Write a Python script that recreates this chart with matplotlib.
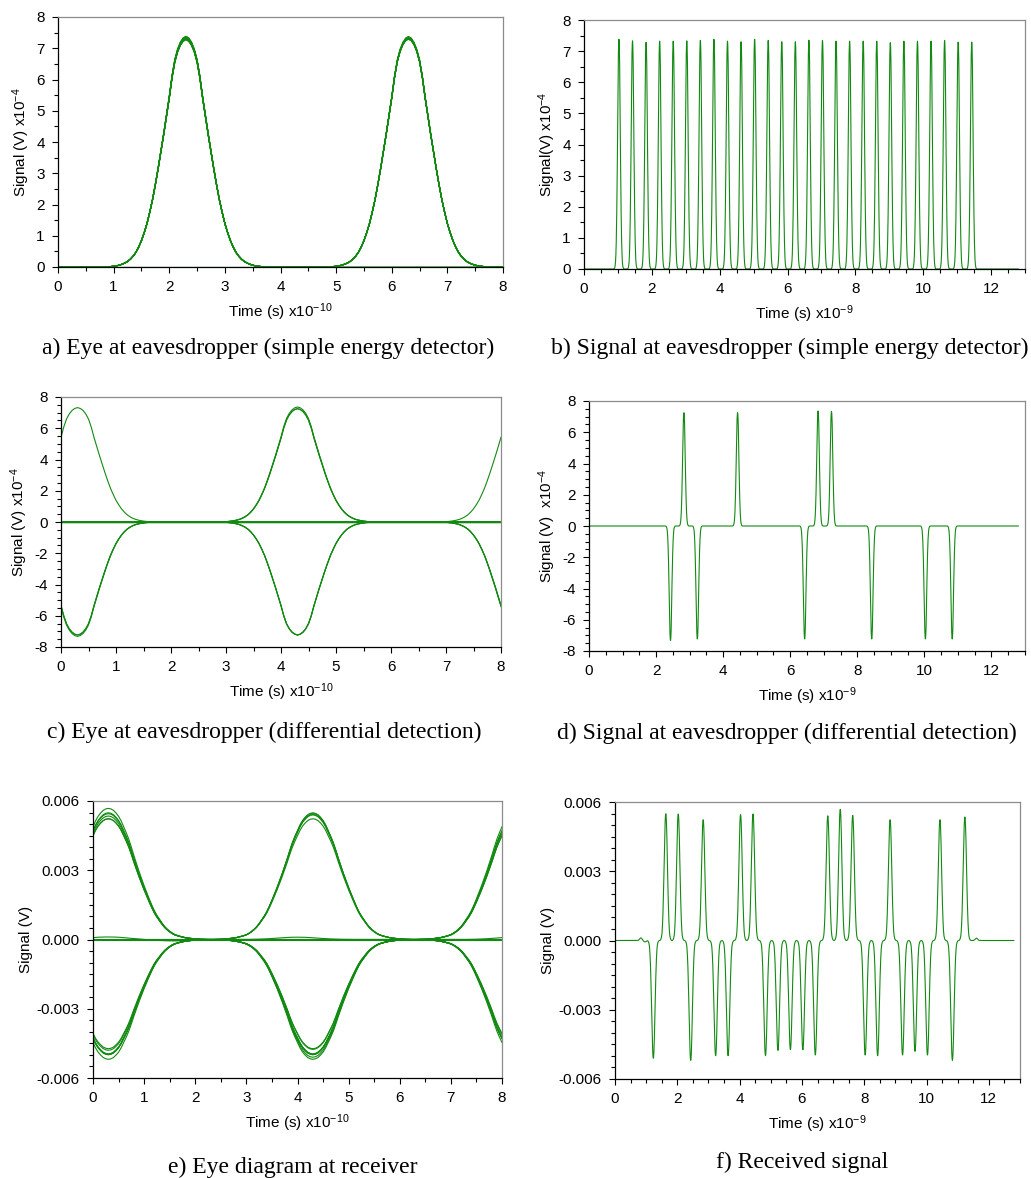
# eye diagrams and signals, eavesdropper vs receiver
import matplotlib
matplotlib.use("Agg")
import matplotlib.pyplot as plt
from matplotlib.ticker import MultipleLocator, FormatStrFormatter
import numpy as np

plt.rcParams['font.family'] = ['Liberation Sans', 'DejaVu Sans']
plt.rcParams['mathtext.fontset'] = 'custom'
plt.rcParams['mathtext.rm'] = 'Liberation Sans'
plt.rcParams['mathtext.it'] = 'Liberation Sans:italic'
plt.rcParams['axes.unicode_minus'] = False

# time grid of the scope traces (ns), 5 ps per sample
dt = 0.005
nSamples = 2561
t = np.arange(nSamples) * dt

# half pulse shapes read from the eyes, one value every 5 ps from the peak (normalized)
ED_PROFILE = [1.0, 0.993, 0.975, 0.945, 0.90, 0.83, 0.74, 0.66, 0.58, 0.505,
              0.43, 0.36, 0.295, 0.24, 0.19, 0.15, 0.115, 0.087, 0.064, 0.047,
              0.034, 0.024, 0.017, 0.012, 0.008, 0.005, 0.003, 0.002, 0.001]
RX_PROFILE = [1.0, 0.996, 0.985, 0.965, 0.94, 0.905, 0.86, 0.815, 0.765, 0.705,
              0.64, 0.58, 0.52, 0.465, 0.41, 0.36, 0.31, 0.263, 0.22, 0.185,
              0.155, 0.126, 0.10, 0.08, 0.063, 0.049, 0.038, 0.031, 0.025, 0.02,
              0.015, 0.012, 0.009, 0.007, 0.005, 0.0035, 0.002, 0.0015, 0.001, 0.0005, 0.0]

# b) energy detector output: peak times (ns) and peak values (x1e-4 V)
B_PEAK_T = [1.03, 1.43, 1.83, 2.23, 2.63, 3.03, 3.43, 3.83, 4.23, 4.63, 5.03, 5.43,
            5.83, 6.23, 6.63, 7.03, 7.43, 7.83, 8.23, 8.63, 9.03, 9.43, 9.83, 10.23,
            10.63, 11.03, 11.43]
B_PEAK_V = [7.38, 7.33, 7.28, 7.32, 7.32, 7.33, 7.34, 7.38, 7.32, 7.30, 7.38, 7.34,
            7.30, 7.30, 7.35, 7.34, 7.32, 7.32, 7.32, 7.32, 7.27, 7.32, 7.32, 7.32,
            7.34, 7.29, 7.29]

# d) differential detection output
D_PEAK_T = [2.43, 2.83, 3.23, 4.43, 6.43, 6.83, 7.23, 8.43, 10.03, 10.83]
D_PEAK_V = [-7.32, 7.25, -7.23, 7.25, -7.23, 7.36, 7.32, -7.23, -7.23, -7.23]

# f) received signal (V)
F_PEAK_T = [1.23, 1.63, 2.03, 2.43, 2.83, 3.23, 3.63, 4.03, 4.43, 4.83, 5.23, 5.63, 6.03,
            6.43, 6.83, 7.23, 7.63, 8.03, 8.43, 8.83, 9.23, 9.63, 10.03, 10.43, 10.83, 11.23]
F_PEAK_V = [-0.00510, 0.00549, 0.00548, -0.00519, 0.00523, -0.00499, -0.00499, 0.00545,
            0.00548, -0.00499, -0.00476, -0.00473, -0.00473, -0.00496, 0.00540, 0.00568,
            0.00542, -0.00496, -0.00499, 0.00523, -0.00496, -0.00480, -0.00496, 0.00523,
            -0.00519, 0.00535]
F_RIPPLE_T = [0.83, 0.96, 11.60]
F_RIPPLE_V = [0.00011, -0.00006, 0.00010]

EYE_SPAN = 160  # samples per eye window (0.8 ns)
GREEN = '#128a12'


def pulse_train(times, values, profile):
    half = np.array(profile)
    shape = np.concatenate([half[:0:-1], half])
    n = len(half) - 1
    sig = np.zeros(nSamples)
    for tp, v in zip(times, values):
        i = int(round(tp / dt))
        lo, hi = max(i - n, 0), min(i + n + 1, nSamples)
        sig[lo:hi] += v * shape[lo - (i - n):hi - (i - n)]
    return sig


def style_axes(ax, xlim, ylim, xmaj, xmin, ymaj, ymin, ylabel, xlabel, yfmt=None):
    ax.set_xlim(*xlim)
    ax.set_ylim(*ylim)
    ax.xaxis.set_major_locator(MultipleLocator(xmaj))
    ax.xaxis.set_minor_locator(MultipleLocator(xmin))
    ax.yaxis.set_major_locator(MultipleLocator(ymaj))
    ax.yaxis.set_minor_locator(MultipleLocator(ymin))
    if yfmt:
        ax.yaxis.set_major_formatter(FormatStrFormatter(yfmt))
    ax.tick_params(which='both', direction='out', top=False, right=False,
                   labelsize=11, width=0.8, colors='black')
    ax.tick_params(which='major', length=4.5, pad=5)
    ax.tick_params(which='minor', length=3)
    for s in ['top', 'right']:
        ax.spines[s].set_color('#8c8c8c')
    for s in ['left', 'bottom']:
        ax.spines[s].set_color('black')
    for s in ax.spines.values():
        s.set_linewidth(0.9)
    ax.set_ylabel(ylabel, fontsize=11, labelpad=3)
    ax.set_xlabel(xlabel, fontsize=11, labelpad=5)


def plot_eye(ax, sig):
    nWin = (nSamples - 1) // EYE_SPAN
    for k in range(nWin):
        seg = slice(k * EYE_SPAN, k * EYE_SPAN + EYE_SPAN + 1)
        ax.plot((t[seg] - t[k * EYE_SPAN]) * 10, sig[seg], color=GREEN, lw=0.8)


sigB = pulse_train(B_PEAK_T, B_PEAK_V, ED_PROFILE)
sigD = pulse_train(D_PEAK_T, D_PEAK_V, ED_PROFILE)
sigF = pulse_train(F_PEAK_T, F_PEAK_V, RX_PROFILE) + pulse_train(F_RIPPLE_T, F_RIPPLE_V, ED_PROFILE)

W, H = 1031, 1178
fig = plt.figure(figsize=(W / 100, H / 100), dpi=100)


def add_axes(x0, y0, x1, y1):
    return fig.add_axes([x0 / W, 1 - y1 / H, (x1 - x0) / W, (y1 - y0) / H])


ylab4 = 'Signal (V) x10$^{-4}$'
xlab10 = 'Time (s) x10$^{-10}$'
xlab9 = 'Time (s) x10$^{-9}$'

axA = add_axes(58, 17, 503, 267)
plot_eye(axA, sigB)
style_axes(axA, (0, 8), (0, 8), 1, 0.5, 1, 0.5, ylab4, xlab10)

axB = add_axes(584, 20, 1025, 269)
axB.plot(t, sigB, color=GREEN, lw=0.8)
style_axes(axB, (0, 13), (0, 8), 2, 0.5, 1, 0.5, 'Signal(V) x10$^{-4}$', xlab9)

axC = add_axes(61, 397, 501, 647)
plot_eye(axC, sigD)
style_axes(axC, (0, 8), (-8, 8), 1, 0.5, 2, 0.5, ylab4, xlab10)

axD = add_axes(589, 401, 1025, 651)
axD.plot(t, sigD, color=GREEN, lw=0.8)
style_axes(axD, (0, 13), (-8, 8), 2, 0.5, 2, 0.5, 'Signal (V)  x10$^{-4}$', xlab9)

axE = add_axes(93, 801, 502, 1078)
plot_eye(axE, sigF)
style_axes(axE, (0, 8), (-0.006, 0.006), 1, 0.5, 0.003, 0.0005, 'Signal (V)', xlab10, '%.3f')

axF = add_axes(615, 802, 1020, 1079)
axF.plot(t, sigF, color=GREEN, lw=0.8)
style_axes(axF, (0, 13), (-0.006, 0.006), 2, 0.5, 0.003, 0.0005, 'Signal (V)', xlab9, '%.3f')

captions = [
    (268, 348, 'a) Eye at eavesdropper (simple energy detector)'),
    (790, 348, 'b) Signal at eavesdropper (simple energy detector)'),
    (264, 732, 'c) Eye at eavesdropper (differential detection)'),
    (787, 733, 'd) Signal at eavesdropper (differential detection)'),
    (293, 1167, 'e) Eye diagram at receiver'),
    (802, 1162, 'f) Received signal'),
]
for cx, cy, txt in captions:
    fig.text(cx / W, 1 - cy / H, txt, ha='center', va='center',
             family=['Liberation Serif', 'DejaVu Serif'], fontsize=17)

fig.savefig('out.png', dpi=100, facecolor='white')
